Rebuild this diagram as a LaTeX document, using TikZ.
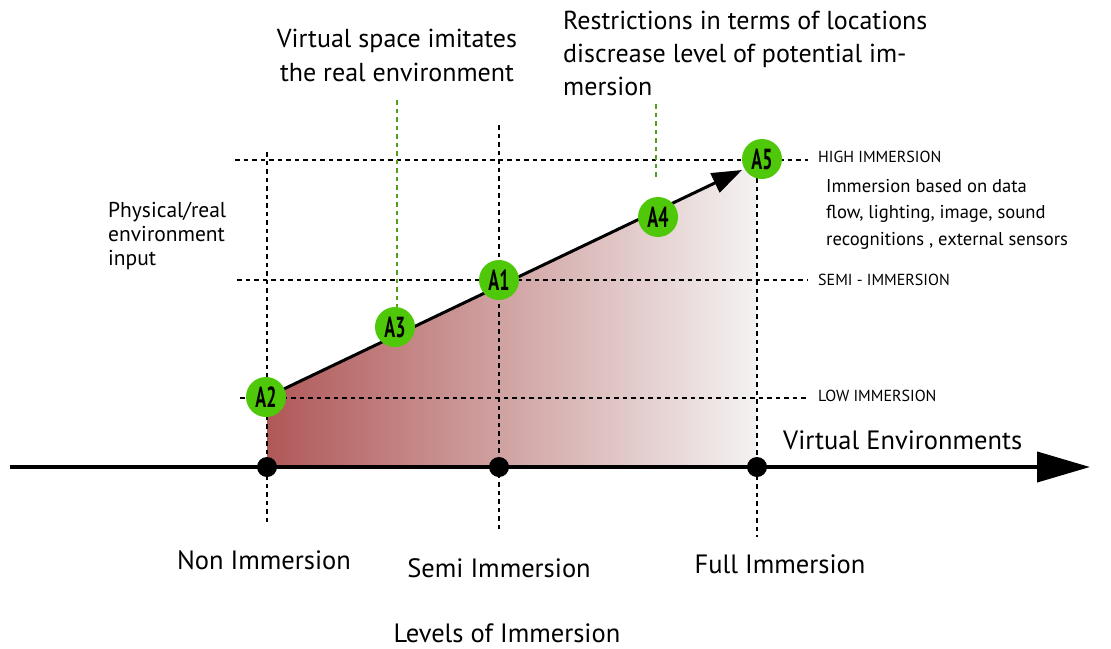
\documentclass[tikz,border=0pt]{standalone}
\usepackage{fontspec}
\setmainfont{PT Sans}
\usetikzlibrary{arrows.meta}
\definecolor{ballgreen}{RGB}{78,200,8}
\definecolor{guidegreen}{RGB}{80,160,30}
\definecolor{darkred}{RGB}{176,88,88}
\definecolor{lightend}{RGB}{244,242,242}
\tikzset{
  grid/.style={black, line width=1.4pt, dash pattern=on 4.5pt off 4pt},
  gguide/.style={guidegreen, line width=1.4pt, dash pattern=on 4.5pt off 4pt},
  ball/.style={circle, fill=ballgreen, minimum size=40pt, inner sep=0pt,
    font=\fontsize{29}{29}\selectfont\bfseries},
  tick/.style={circle, fill=black, minimum size=20pt, inner sep=0pt},
  lbl/.style={inner sep=0pt, align=left},
  big/.style={inner sep=0pt, font=\fontsize{26.5}{26.5}\selectfont},
}
\newcommand{\ballname}[1]{\scalebox{0.62}[1]{#1}}
\begin{document}
\begin{tikzpicture}[x=1pt,y=-1pt]
\useasboundingbox (0,0) rectangle (1111,648);
% shaded area
\shade[left color=darkred, right color=lightend]
  (267,467) -- (267,397) -- (757,163) -- (757,467) -- cycle;
% guide lines
\draw[grid] (235,160) -- (808,160);
\draw[grid] (237,280) -- (808,280);
\draw[grid] (240,398) -- (808,398);
\draw[grid] (267,152) -- (267,525);
\draw[grid] (499,125) -- (499,530);
\draw[grid] (757,178) -- (757,537);
\draw[gguide] (397,100) -- (397,310);
\draw[gguide] (656,104) -- (656,178);
% main axis
\node[tick] (d1) at (267,467) {};
\node[tick] (d2) at (499,467) {};
\node[tick] (d3) at (757,467) {};
\coordinate (axs) at (10,467);
\coordinate (axe) at (1090,467);
\draw[line width=4pt, -{Triangle[length=53pt,width=30pt]}] (axs) -- (axe);
% slope arrow
\coordinate (tip) at (742,170);
\coordinate (base) at (267,397);
\draw[line width=3pt, -{Triangle[length=30pt,width=21pt]}] (base) -- (tip);
% balls
\node[ball] (A2) at (266,397) {\ballname{A2}};
\node[ball] (A3) at (395,327) {\ballname{A3}};
\node[ball] (A1) at (499,280) {\ballname{A1}};
\node[ball] (A4) at (658,217) {\ballname{A4}};
\node[ball] (A5) at (762,159) {\ballname{A5}};
% texts
\node[inner sep=0pt, align=center, font=\fontsize{26}{34}\selectfont] (t1) at (397,55)
  {Virtual space imitates\\the real environment};
\node[lbl, anchor=west, font=\fontsize{26}{33}\selectfont] (t2) at (563,53)
  {Restrictions in terms of locations\\discrease level of potential im-\\mersion};
\node[lbl, anchor=west, font=\fontsize{21.5}{24}\selectfont] (t3) at (108,236)
  {Physical/real\\environment\\input};
\node[lbl, anchor=west, font=\fontsize{16}{16}\selectfont] (h1) at (818,157) {HIGH IMMERSION};
\node[lbl, anchor=west, font=\fontsize{16}{16}\selectfont] (h2) at (818,280) {SEMI - IMMERSION};
\node[lbl, anchor=west, font=\fontsize{16}{16}\selectfont] (h3) at (818,396) {LOW IMMERSION};
\node[lbl, anchor=west, font=\fontsize{18.6}{26.5}\selectfont] (t4) at (826,214)
  {Immersion based on data\\flow, lighting, image, sound\\recognitions , external sensors};
\node[big, anchor=west] (ve) at (783,440) {Virtual Environments};
\node[big] (n1) at (264,560) {Non Immersion};
\node[big] (n2) at (499,568) {Semi Immersion};
\node[big] (n3) at (780,564) {Full Immersion};
\node[big] (n4) at (507,633) {Levels of Immersion};
\end{tikzpicture}
\end{document}
